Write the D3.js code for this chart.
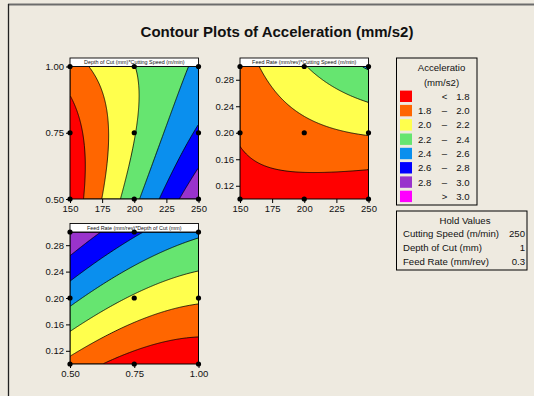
<!DOCTYPE html>
<html><head><meta charset="utf-8">
<script src="https://cdn.jsdelivr.net/npm/d3@7"></script>
<style>
html,body{margin:0;padding:0;background:#EEEAE0;}
svg{display:block;}
text{font-family:"Liberation Sans",Arial,sans-serif;fill:#111;}
</style></head><body>
<svg id="chart" width="534" height="396"></svg>
<script>
// Factor levels of the design
const speedLevels = [150, 200, 250];
const depthLevels = [0.5, 0.75, 1.0];
const feedLevels = [0.1, 0.2, 0.3];

// Fitted acceleration (mm/s2) at the nine design points of each panel.
// Rows follow the y factor levels, columns the x factor levels.
const accelDepthSpeed = [
  [1.649, 2.345, 2.985],   // depth 0.50
  [1.700, 2.190, 2.634],   // depth 0.75
  [1.912, 2.196, 2.434]    // depth 1.00
];
const accelFeedSpeed = [
  [1.742, 1.710, 1.632],   // feed 0.1
  [1.817, 1.940, 2.017],   // feed 0.2
  [1.912, 2.190, 2.422]    // feed 0.3
];
const accelFeedDepth = [
  [1.937, 1.707, 1.636],   // feed 0.1
  [2.467, 2.172, 2.036],   // feed 0.2
  [2.985, 2.637, 2.436]    // feed 0.3
];

// Contour bands
const bandBreaks = [1.8, 2.0, 2.2, 2.4, 2.6, 2.8, 3.0];
const bandColors = ["#FF0000", "#FF6600", "#FFFF4D", "#66E570", "#0A8FEE", "#0000FF", "#9933CC", "#FF00FF"];
const legendLow  = ["", "1.8", "2.0", "2.2", "2.4", "2.6", "2.8", ""];
const legendMid  = ["<", "–", "–", "–", "–", "–", "–", ">"];
const legendHigh = ["1.8", "2.0", "2.2", "2.4", "2.6", "2.8", "3.0", "3.0"];

// Axis ticks
const speedTicks = [150, 175, 200, 225, 250];
const depthTicks = [0.5, 0.75, 1.0];
const feedTicks = [0.12, 0.16, 0.20, 0.24, 0.28];

// Hold values
const holdNames = ["Cutting Speed (m/min)", "Depth of Cut (mm)", "Feed Rate (mm/rev)"];
const holdValues = ["250", "1", "0.3"];

const svg = d3.select("#chart");

// outer frame edges
svg.append("line").attr("x1", 8).attr("x2", 534).attr("y1", 4.5).attr("y2", 4.5)
  .attr("stroke", "#6c6c6c").attr("stroke-width", 2);
svg.append("line").attr("x1", 8.5).attr("x2", 8.5).attr("y1", 4).attr("y2", 396)
  .attr("stroke", "#222").attr("stroke-width", 1.3);

svg.append("text").attr("x", 277).attr("y", 37).attr("text-anchor", "middle")
  .attr("font-size", 15).attr("font-weight", "bold")
  .text("Contour Plots of Acceleration (mm/s2)");

const panels = [
  { title: "Depth of Cut (mm)*Cutting Speed (m/min)", xLevels: speedLevels, yLevels: depthLevels,
    z: accelDepthSpeed, xTicks: speedTicks, yTicks: depthTicks, xFmt: d3.format("d"), yFmt: d3.format(".2f"),
    x0: 70, x1: 198.5, y0: 66.5, y1: 199 },
  { title: "Feed Rate (mm/rev)*Cutting Speed (m/min)", xLevels: speedLevels, yLevels: feedLevels,
    z: accelFeedSpeed, xTicks: speedTicks, yTicks: feedTicks, xFmt: d3.format("d"), yFmt: d3.format(".2f"),
    x0: 240, x1: 368.5, y0: 66.5, y1: 199 },
  { title: "Feed Rate (mm/rev)*Depth of Cut (mm)", xLevels: depthLevels, yLevels: feedLevels,
    z: accelFeedDepth, xTicks: depthTicks, yTicks: feedTicks, xFmt: d3.format(".2f"), yFmt: d3.format(".2f"),
    x0: 70, x1: 198.5, y0: 232, y1: 364 }
];

// quadratic response surface passing through the 3x3 design-point values
function surface(z, xl, yl) {
  const L = t => [t * (t - 1) / 2, 1 - t * t, t * (t + 1) / 2];
  const xm = xl[1], xh = (xl[2] - xl[0]) / 2, ym = yl[1], yh = (yl[2] - yl[0]) / 2;
  return (x, y) => {
    const a = L((x - xm) / xh), b = L((y - ym) / yh);
    let s = 0;
    for (let j = 0; j < 3; j++) for (let i = 0; i < 3; i++) s += z[j][i] * a[i] * b[j];
    return s;
  };
}

panels.forEach((p, k) => {
  const xDom = [p.xLevels[0], p.xLevels[2]], yDom = [p.yLevels[0], p.yLevels[2]];
  const xs = d3.scaleLinear().domain(xDom).range([p.x0, p.x1]);
  const ys = d3.scaleLinear().domain(yDom).range([p.y1, p.y0]);
  const f = surface(p.z, p.xLevels, p.yLevels);

  const n = 130, m = 134;
  const values = new Float64Array(n * m);
  for (let j = 0; j < m; j++) for (let i = 0; i < n; i++) {
    const x = xDom[0] + (i + 0.5) / n * (xDom[1] - xDom[0]);
    const y = yDom[0] + (j + 0.5) / m * (yDom[1] - yDom[0]);
    values[j * n + i] = f(x, y);
  }
  const proj = d3.geoTransform({
    point(px, py) {
      this.stream.point(xs(xDom[0] + px / n * (xDom[1] - xDom[0])),
                        ys(yDom[0] + py / m * (yDom[1] - yDom[0])));
    }
  });
  const path = d3.geoPath(proj);
  const contours = d3.contours().size([n, m]).thresholds(bandBreaks)(values);

  const clipId = "clip" + k;
  svg.append("clipPath").attr("id", clipId).append("rect")
    .attr("x", p.x0).attr("y", p.y0).attr("width", p.x1 - p.x0).attr("height", p.y1 - p.y0);

  const g = svg.append("g").attr("clip-path", `url(#${clipId})`);
  g.append("rect").attr("x", p.x0).attr("y", p.y0).attr("width", p.x1 - p.x0).attr("height", p.y1 - p.y0)
    .attr("fill", bandColors[0]);
  g.selectAll("path.band").data(contours).join("path").attr("class", "band")
    .attr("d", path)
    .attr("fill", (d, i) => bandColors[i + 1])
    .attr("stroke", "#000").attr("stroke-width", 0.8).attr("stroke-linejoin", "round");

  // frame
  svg.append("rect").attr("x", p.x0).attr("y", p.y0).attr("width", p.x1 - p.x0).attr("height", p.y1 - p.y0)
    .attr("fill", "none").attr("stroke", "#000").attr("stroke-width", 1);

  // header strip
  svg.append("rect").attr("x", p.x0).attr("y", p.y0 - 8.5).attr("width", p.x1 - p.x0).attr("height", 8.5)
    .attr("fill", "#fff").attr("stroke", "#000").attr("stroke-width", 0.9);
  svg.append("text").attr("x", (p.x0 + p.x1) / 2).attr("y", p.y0 - 2.3).attr("text-anchor", "middle")
    .attr("font-size", 5.4).text(p.title);

  // axes
  const ax = svg.append("g").attr("transform", `translate(0,${p.y1})`)
    .call(d3.axisBottom(xs).tickValues(p.xTicks).tickFormat(p.xFmt).tickSize(4).tickPadding(2));
  const ay = svg.append("g").attr("transform", `translate(${p.x0},0)`)
    .call(d3.axisLeft(ys).tickValues(p.yTicks).tickFormat(p.yFmt).tickSize(4).tickPadding(2));
  [ax, ay].forEach(a => {
    a.select(".domain").remove();
    a.selectAll("line").attr("stroke", "#000");
    a.selectAll("text").attr("font-size", 9.5).attr("fill", "#111")
      .style("font-family", '"Liberation Sans", Arial, sans-serif');
  });

  // design points
  const pts = [];
  p.yLevels.forEach(y => p.xLevels.forEach(x => pts.push([x, y])));
  svg.append("g").selectAll("circle").data(pts).join("circle")
    .attr("cx", d => xs(d[0])).attr("cy", d => ys(d[1])).attr("r", 2.6).attr("fill", "#000");
});

// legend
const lg = svg.append("g");
lg.append("rect").attr("x", 396.5).attr("y", 58).attr("width", 80.5).attr("height", 147)
  .attr("fill", "none").attr("stroke", "#000").attr("stroke-width", 1);
lg.append("text").attr("x", 441.5).attr("y", 71).attr("text-anchor", "middle").attr("font-size", 9.6).text("Acceleratio");
lg.append("text").attr("x", 441.5).attr("y", 86).attr("text-anchor", "middle").attr("font-size", 9.6).text("(mm/s2)");
const rows = lg.selectAll("g.row").data(bandColors).join("g").attr("class", "row")
  .attr("transform", (d, i) => `translate(0,${96.3 + i * 14.3})`);
rows.append("rect").attr("x", 400).attr("y", -5.7).attr("width", 12).attr("height", 11.4).attr("fill", d => d);
rows.append("text").attr("x", 418).attr("y", 3.4).attr("font-size", 9.6).text((d, i) => legendLow[i]);
rows.append("text").attr("x", 444.5).attr("y", 3.4).attr("text-anchor", "middle").attr("font-size", 9.6).text((d, i) => legendMid[i]);
rows.append("text").attr("x", 469.5).attr("y", 3.4).attr("text-anchor", "end").attr("font-size", 9.6).text((d, i) => legendHigh[i]);

// hold values box
const hg = svg.append("g");
hg.append("rect").attr("x", 396.5).attr("y", 211).attr("width", 130.5).attr("height", 59)
  .attr("fill", "none").attr("stroke", "#000").attr("stroke-width", 1);
hg.append("text").attr("x", 465).attr("y", 223.5).attr("text-anchor", "middle").attr("font-size", 9.6).text("Hold Values");
holdNames.forEach((nm, i) => {
  hg.append("text").attr("x", 403).attr("y", 237 + i * 14).attr("font-size", 9.6).text(nm);
  hg.append("text").attr("x", 525).attr("y", 237 + i * 14).attr("text-anchor", "end").attr("font-size", 9.6).text(holdValues[i]);
});
</script>
</body></html>
